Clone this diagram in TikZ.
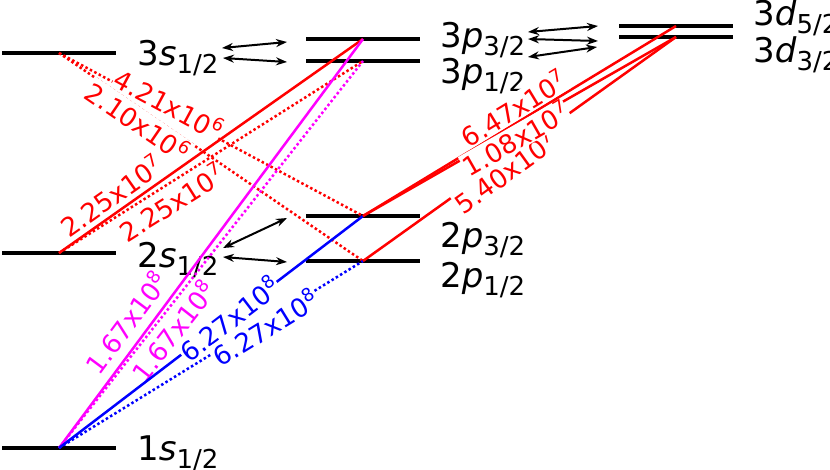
\documentclass[tikz,border=0pt]{standalone}
\usepackage{fontspec}
\setmainfont{DejaVu Sans}
\usetikzlibrary{arrows.meta}
\definecolor{trred}{HTML}{FF0000}
\definecolor{trmag}{HTML}{FF00FF}
\definecolor{trblue}{HTML}{0000FF}
\newcommand\lvlname[3]{#1\textit{#2}\raisebox{-8pt}{\fontsize{26}{30}\selectfont #3}}
\newcommand\arate[2]{#1x10\raisebox{10pt}{\fontsize{18}{20}\selectfont #2}}

\begin{document}
\begin{tikzpicture}[x=1pt,y=-1pt,
  bar/.style={fill=black,inner sep=0pt,minimum width=114pt,minimum height=4pt},
  lvl/.style={anchor=base west,inner sep=0pt,font=\fontsize{34}{40}\selectfont},
  tr/.style={line width=2.5pt},
  dots/.style={line width=2.5pt,dash pattern=on 2.5pt off 2.5pt},
  rt/.style={sloped,inner sep=1pt,font=\fontsize{26}{30}\selectfont},
  mix/.style={line width=2pt,{Stealth[length=11pt,width=8pt]}-{Stealth[length=11pt,width=8pt]}}]
  \useasboundingbox (0,0) rectangle (830,469);
  % levels
  \foreach \n/\x/\y in {s3/59/53,s2/59/253,s1/59/448,p3a/363/39,p3b/363/61,p2a/363/216,p2b/363/261,d3a/676/26,d3b/676/37}
    \node[bar] (\n) at (\x,\y) {};
  \node[lvl] (t3s) at (137,65) {\lvlname{3}{s}{1/2}};
  \node[lvl] (t2s) at (137,267) {\lvlname{2}{s}{1/2}};
  \node[lvl] (t1s) at (137,460) {\lvlname{1}{s}{1/2}};
  \node[lvl] (t3pa) at (440,47) {\lvlname{3}{p}{3/2}};
  \node[lvl] (t3pb) at (440,83) {\lvlname{3}{p}{1/2}};
  \node[lvl] (t2pa) at (440,247) {\lvlname{2}{p}{3/2}};
  \node[lvl] (t2pb) at (440,287) {\lvlname{2}{p}{1/2}};
  \node[lvl] (t3da) at (753,25) {\lvlname{3}{d}{5/2}};
  \node[lvl] (t3db) at (753,62) {\lvlname{3}{d}{3/2}};
  % decays
  \draw[dots,trred] (s3.center) -- node[rt,fill=white,pos=0.35,above=-6.5pt]{\arate{4.21}{6}} (p2a.center);
  \draw[dots,trred] (s3.center) -- node[rt,fill=white,pos=0.281,below=-2.5pt]{\arate{2.10}{6}} (p2b.center);
  \draw[tr,trred] (s2.center) -- node[rt,pos=0.203,above=3.3pt]{\arate{2.25}{7}} (p3a.center);
  \draw[dots,trred] (s2.center) -- node[rt,pos=0.34,below=3pt]{\arate{2.25}{7}} (p3b.center);
  \draw[tr,trmag] (s1.center) -- node[rt,pos=0.276,above=7.5pt]{\arate{1.67}{8}} (p3a.center);
  \draw[dots,trmag] (s1.center) -- node[rt,pos=0.33,below=3pt]{\arate{1.67}{8}} (p3b.center);
  \draw[tr,trblue] (s1.center) -- node[rt,fill=white,pos=0.559]{\arate{6.27}{8}} (p2a.center);
  \draw[dots,trblue] (s1.center) -- node[rt,fill=white,pos=0.669,below=-9pt]{\arate{6.27}{8}} (p2b.center);
  \draw[tr,trred] (p2a.center) -- node[rt,fill=white,pos=0.504,above=0.3pt]{\arate{6.47}{7}} (d3a.center);
  \draw[tr,trred] (p2b.center) -- node[rt,fill=white,inner sep=0.5pt,pos=0.435,below=-3.6pt]{\arate{5.40}{7}} (d3b.center);
  \draw[tr,trred] (p2a.center) -- node[rt,fill=white,inner sep=0.5pt,pos=0.474,below=-5.2pt]{\arate{1.08}{7}} (d3b.center);
  % mixing
  \foreach \xa/\ya/\xb/\yb [count=\i] in {222/48/287/42,223/58/287/62,223/248/287/218,223/257/287/262,528/32/598/26,528/39/598/41,528/57/597/47}{
    \coordinate (m\i a) at (\xa,\ya);
    \coordinate (m\i b) at (\xb,\yb);
    \draw[mix] (m\i a) -- (m\i b);
  }
\end{tikzpicture}
\end{document}
